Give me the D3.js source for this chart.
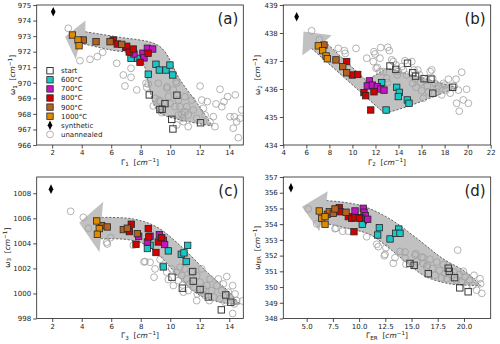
<!DOCTYPE html>
<html lang="en">
<head>
<meta charset="UTF-8">
<title>Raman band positions vs widths</title>
<script src="https://cdn.jsdelivr.net/npm/d3@7/dist/d3.min.js"></script>
<style>
  body { margin: 0; background: #fff; }
  text { font-family: "DejaVu Sans", sans-serif; fill: #222; }
</style>
</head>
<body>
<svg id="fig" width="500" height="344"></svg>
<script>
// ---- legend / series names
var seriesNames = ["start", "600°C", "700°C", "800°C", "900°C", "1000°C", "synthetic", "unannealed"];

// ---- ticks
var xTicksA = [2, 4, 6, 8, 10, 12, 14];
var yTicksA = [966, 967, 968, 969, 970, 971, 972, 973, 974, 975];
var xTicksB = [4, 6, 8, 10, 12, 14, 16, 18, 20, 22];
var yTicksB = [434, 435, 436, 437, 438, 439];
var xTicksC = [2, 4, 6, 8, 10, 12, 14];
var yTicksC = [998, 1000, 1002, 1004, 1006, 1008];
var xTicksD = [5, 7.5, 10, 12.5, 15, 17.5, 20];
var yTicksD = [348, 349, 350, 351, 352, 353, 354, 355, 356, 357];

// ---- panel (a): Γ1 / ω1
var startA = [[8.58,969.22],[9.30,968.28],[9.45,968.30],[9.64,968.66],[10.45,969.2],[10.10,967.65],[10.18,967.03],[12.05,967.43]];
var t600A = [[7.34,971.57],[7.79,971.57],[8.51,970.55],[9.03,971.19],[9.26,970.82],[9.71,970.82],[9.98,971.14],[10.17,970.5]];
var t700A = [[6.98,972.28],[7.54,971.85],[8.15,971.9],[8.22,971.6],[8.45,972.22],[8.81,972.17]];
var t800A = [[6.14,972.75],[6.41,972.49],[7.05,972.35],[7.22,971.98],[7.50,972.17],[7.95,971.32],[8.50,971.90]];
var t900A = [[4.11,972.75],[4.97,972.64],[5.92,972.64],[6.71,972.47]];
var t1000A = [[3.37,973.07],[3.75,972.75],[3.82,972.38]];
var synthA = [[2.07,974.57]];
var unannA = [[3.09,973.50],[3.88,971.42],[4.56,971.51],[5.06,971.68],[5.42,971.96],[6.37,971.25],[6.82,970.50],[7.34,970.93],[7.34,970.35],[6.93,969.79],[7.73,969.54],[8.36,969.97],[8.40,969.71],[8.85,968.51],[9.19,969.97],[9.26,968.89],[9.42,968.08],[9.76,969.65],[9.87,969.11],[9.98,968.68],[10.21,969.54],[10.44,969.97],[10.55,968.89],[10.66,968.46],[10.78,967.98],[10.84,967.72],[10.99,969.11],[11.11,968.46],[11.22,967.93],[11.45,968.89],[11.56,968.25],[11.79,967.72],[12.02,969.79],[12.13,968.89],[12.24,968.36],[12.36,967.93],[12.51,968.79],[12.69,967.50],[12.92,967.82],[13.03,967.18],[13.10,968.64],[13.37,969.58],[13.49,968.46],[13.64,968.79],[13.89,969.11],[14.05,967.82],[14.27,967.08],[14.34,967.82],[14.41,969.22],[14.50,967.50],[14.61,966.47],[14.73,967.72],[14.84,968.25],[8.97,969.00],[9.31,968.79],[10.32,968.46],[11.0,968.14],[10.55,967.93],[10.89,967.50],[11.22,967.18],[10.44,967.29],[8.51,969.92],[9.80,969.75],[10.39,970.07]];
var arrowHeadA = [[2.87,972.96],[4.25,974.0],[3.6,971.5]];
var arrowUpperA = [[4.25,973.28],[6.4,972.95],[8.85,972.55],[9.55,972.1],[10.66,970.2],[12.0,968.45],[12.85,967.22]];
var arrowLowerA = [[3.88,972.55],[5.9,972.12],[7.7,971.78],[8.2,971.2],[8.5,970.0],[9.05,968.3],[9.6,967.9],[12.85,967.22]];

// ---- panel (b): Γ2 / ω2
var startB = [[13.26,436.82],[13.76,436.70],[14.78,436.92],[15.23,436.58],[15.48,436.46],[16.22,436.37],[16.82,436.35],[16.97,435.85],[18.70,436.06]];
var t600B = [[12.54,436.23],[13.84,436.06],[14.07,435.88],[13.98,435.73],[14.76,435.61],[14.91,435.49],[12.92,435.25]];
var t700B = [[11.47,436.29],[11.29,436.11],[11.73,436.14],[12.16,436.08],[12.45,436.00],[12.74,435.96]];
var t800B = [[9.50,436.98],[9.99,436.50],[10.46,436.52],[11.00,435.87],[11.15,435.76],[11.87,435.90],[11.59,435.25]];
var t900B = [[7.53,437.57],[8.57,437.04],[9.16,436.80],[9.50,436.58]];
var t1000B = [[7.04,437.54],[7.42,437.37],[7.71,437.18],[7.82,437.08]];
var synthB = [[5.16,438.58]];
var unannB = [[6.46,438.08],[7.13,437.77],[8.77,437.45],[9.30,437.37],[9.38,437.27],[10.31,437.45],[11.24,437.10],[11.81,436.98],[11.87,437.33],[12.05,436.74],[12.39,437.10],[12.45,437.48],[12.68,436.62],[12.98,436.38],[13.06,437.49],[13.20,437.37],[13.41,437.04],[13.03,436.23],[13.55,436.98],[13.78,436.86],[13.98,436.62],[13.90,436.50],[14.28,436.80],[14.42,436.68],[14.56,437.01],[14.71,436.50],[15.15,436.98],[15.23,436.20],[15.35,436.68],[15.43,436.36],[15.52,436.06],[15.67,436.68],[15.81,436.52],[15.93,436.23],[16.01,435.94],[16.15,435.67],[16.39,436.32],[16.50,436.11],[16.59,435.90],[16.74,436.62],[16.88,436.68],[16.97,436.38],[17.17,436.20],[17.32,436.02],[17.46,436.11],[17.75,435.79],[17.90,436.20],[18.04,436.14],[18.13,435.96],[18.33,436.35],[18.48,435.85],[18.82,436.11],[18.99,436.35],[19.19,435.96],[19.48,436.60],[19.62,435.61],[19.91,435.99],[19.04,435.49],[19.27,435.21],[20.06,435.49],[11.96,437.25],[12.16,436.77],[12.39,436.62]];
var arrowHeadB = [[5.75,438.05],[8.2,437.92],[5.65,437.2]];
var arrowUpperB = [[7.6,437.7],[11.2,436.3],[13.0,436.75],[19.1,436.05]];
var arrowLowerB = [[6.45,437.45],[12.8,435.12],[15.0,435.4],[19.1,436.05]];

// ---- panel (c): Γ3 / ω3
var startC = [[10.12,1001.30],[10.82,1000.42],[11.52,1001.75],[11.56,1000.98],[12.02,1000.31],[12.58,999.72],[13.76,999.88],[13.46,998.69],[14.10,999.30]];
var t600C = [[8.63,1003.85],[8.45,1003.59],[9.87,1003.40],[9.53,1002.12],[10.75,1003.13],[10.93,1003.24],[11.08,1002.55],[11.18,1003.84]];
var t700C = [[7.86,1004.57],[8.63,1004.57],[8.45,1004.11],[9.26,1004.70],[9.53,1004.25],[9.62,1003.91]];
var t800C = [[7.36,1005.53],[7.23,1004.94],[7.68,1003.93],[8.51,1005.18],[8.54,1004.51],[9.03,1003.27],[9.19,1004.11],[9.42,1004.46]];
var t900C = [[5.35,1005.42],[5.73,1005.31],[6.82,1005.10],[7.09,1005.21],[7.77,1004.78]];
var t1000C = [[5.02,1005.79],[5.19,1005.18],[5.06,1004.73]];
var synthC = [[1.92,1008.33]];
var unannC = [[3.25,1006.56],[4.11,1006.08],[4.45,1005.21],[5.69,1004.09],[5.73,1003.95],[5.96,1004.46],[7.50,1003.85],[8.22,1002.52],[8.29,1002.55],[8.63,1002.49],[8.97,1001.96],[8.90,1001.30],[9.31,1002.71],[9.49,1002.23],[9.76,1001.70],[9.87,1001.11],[10.10,1001.96],[10.21,1000.63],[10.44,1001.70],[10.55,1001.03],[10.66,1002.09],[10.78,1001.43],[10.84,1000.68],[10.99,1001.96],[11.11,1001.16],[11.22,1000.23],[11.34,1000.76],[11.45,1001.70],[11.56,1000.50],[11.79,1001.43],[11.83,999.96],[12.02,1000.90],[12.13,1001.96],[12.24,1000.36],[12.36,999.84],[12.47,1000.63],[12.69,1001.16],[12.81,1000.23],[12.96,999.70],[13.15,1000.63],[13.26,1001.16],[13.37,999.56],[13.49,1000.23],[13.60,1000.76],[13.71,999.30],[13.83,1001.35],[13.94,1000.10],[14.05,999.70],[14.23,1000.63],[14.39,999.96],[14.34,999.16],[14.50,999.43],[14.23,998.40],[14.9,999.4],[12.65,999.43],[11.79,999.43],[10.89,1000.10]];
var arrowHeadC = [[3.83,1005.65],[5.46,1007.33],[5.2,1003.3]];
var arrowUpperC = [[5.35,1006.07],[7.5,1005.95],[9.1,1005.3],[10.7,1003.8],[12.5,1001.7],[14.0,1000.1],[14.7,999.15]];
var arrowLowerC = [[5.3,1004.37],[7.1,1004.3],[8.3,1003.9],[9.5,1002.75],[10.7,1001.15],[12.0,999.85],[13.8,999.2],[14.7,999.15]];

// ---- panel (d): ΓER / ωER
var startD = [[14.85,351.5],[15.25,351.38],[16.6,350.85],[18.5,351.2],[18.6,351.0],[19.1,350.6],[19.6,349.95],[20.4,349.7]];
var t600D = [[10.40,354.22],[10.30,353.99],[11.93,353.78],[11.77,353.31],[12.95,353.06],[13.78,353.69],[13.49,353.42],[13.90,353.42]];
var t700D = [[9.61,354.84],[10.40,355.01],[10.47,354.76],[10.59,354.54],[10.82,354.31],[10.15,354.41]];
var t800D = [[8.11,355.05],[8.18,354.79],[8.97,354.48],[9.29,354.37],[9.61,354.41],[10.02,354.37],[9.51,353.52]];
var t900D = [[6.97,354.63],[7.16,354.79],[7.54,354.69],[7.70,354.97],[8.75,354.76]];
var t1000D = [[6.20,354.84],[6.43,354.37],[6.75,354.48],[6.75,353.99]];
var synthD = [[3.5,356.32]];
var unannD = [[5.15,354.97],[5.95,354.03],[7.70,353.71],[8.43,353.55],[8.97,353.55],[7.80,353.74],[10.72,353.20],[11.68,352.72],[11.83,352.57],[12.56,352.50],[12.47,352.08],[12.40,351.99],[13.42,351.87],[13.26,351.51],[13.90,352.27],[14.47,351.45],[15.33,352.04],[15.49,351.61],[16.12,351.87],[16.50,351.40],[14.38,352.23],[14.38,351.85],[15.4,352.12],[15.97,351.91],[16.12,351.49],[16.45,351.28],[16.77,351.77],[17.02,351.17],[17.24,350.75],[17.40,351.59],[17.65,351.06],[17.88,350.58],[18.03,351.43],[18.19,350.85],[18.35,350.53],[18.83,350.75],[19.05,350.96],[19.30,350.43],[19.56,350.79],[19.78,350.32],[19.94,351.0],[20.10,350.64],[20.26,350.11],[20.51,350.43],[19.4,352.35],[20.83,350.11],[20.96,350.75],[21.21,349.80],[21.59,350.21],[21.53,350.53],[21.7,349.6]];
var arrowHeadD = [[4.55,355.1],[7.0,356.1],[6.2,353.55]];
var arrowUpperD = [[6.9,355.5],[10.1,355.2],[12.9,354.35],[15.5,353.1],[18.0,351.8],[20.2,350.95],[21.6,350.1]];
var arrowLowerD = [[6.4,354.1],[9.1,353.7],[11.0,353.35],[12.9,352.45],[14.8,351.4],[16.4,350.65],[18.7,350.2],[21.6,350.1]];

// ---- styles
var sqColors = { start: "none", t600: "#1cc6c6", t700: "#c414c4", t800: "#d40000", t900: "#b3621f", t1000: "#df8a00" };

var panels = [
  { id: "a", left: 36.7, right: 243.3, top: 5, bottom: 145, xDomain: [0.95, 14.95], yDomain: [966, 975],
    xTicks: xTicksA, yTicks: yTicksA, xFmt: d3.format("d"), sub: "1", ylabX: 15,
    start: startA, t600: t600A, t700: t700A, t800: t800A, t900: t900A, t1000: t1000A, synth: synthA, unann: unannA,
    head: arrowHeadA, upper: arrowUpperA, lower: arrowLowerA, straight: false, legend: true },
  { id: "b", left: 283.3, right: 490.7, top: 5, bottom: 145, xDomain: [4, 22], yDomain: [434, 439],
    xTicks: xTicksB, yTicks: yTicksB, xFmt: d3.format("d"), sub: "2", ylabX: 260,
    start: startB, t600: t600B, t700: t700B, t800: t800B, t900: t900B, t1000: t1000B, synth: synthB, unann: unannB,
    head: arrowHeadB, upper: arrowUpperB, lower: arrowLowerB, straight: true },
  { id: "c", left: 36.7, right: 243.3, top: 177, bottom: 318.5, xDomain: [0.95, 14.95], yDomain: [998, 1009.3],
    xTicks: xTicksC, yTicks: yTicksC, xFmt: d3.format("d"), sub: "3", ylabX: 9.5,
    start: startC, t600: t600C, t700: t700C, t800: t800C, t900: t900C, t1000: t1000C, synth: synthC, unann: unannC,
    head: arrowHeadC, upper: arrowUpperC, lower: arrowLowerC, straight: false },
  { id: "d", left: 283.3, right: 490.7, top: 177, bottom: 318.5, xDomain: [2.77, 22.55], yDomain: [348, 357],
    xTicks: xTicksD, yTicks: yTicksD, xFmt: d3.format(".1f"), sub: "ER", ylabX: 259.5,
    start: startD, t600: t600D, t700: t700D, t800: t800D, t900: t900D, t1000: t1000D, synth: synthD, unann: unannD,
    head: arrowHeadD, upper: arrowUpperD, lower: arrowLowerD, straight: false }
];

var svg = d3.select("#fig");
var SQ = 6.4;        // square marker side
var diamond = "M0,-4.8L2.3,0L0,4.8L-2.3,0Z";

// label like  Γ_1 [cm^-1]
function mathLabel(t, sym, sub) {
  t.append("tspan").text(sym);
  t.append("tspan").attr("font-size", 5.6).attr("dy", 1.8).text(sub);
  t.append("tspan").attr("dy", -1.8).text("\u00a0\u00a0[");
  t.append("tspan").attr("font-style", "italic").text("cm");
  t.append("tspan").attr("font-size", 5.6).attr("dy", -3).text("\u22121");
  t.append("tspan").attr("dy", 3).text("]");
}

function drawSquares(g, data, fill, x, y) {
  g.selectAll(null).data(data).enter().append("rect")
    .attr("x", function(d) { return x(d[0]) - SQ / 2; })
    .attr("y", function(d) { return y(d[1]) - SQ / 2; })
    .attr("width", SQ).attr("height", SQ)
    .attr("fill", fill)
    .attr("stroke", fill === "none" ? "#3a3a3a" : "#262626")
    .attr("stroke-width", fill === "none" ? 1 : 0.8);
}

panels.forEach(function(p) {
  var x = d3.scaleLinear().domain(p.xDomain).range([p.left, p.right]);
  var y = d3.scaleLinear().domain(p.yDomain).range([p.bottom, p.top]);
  var g = svg.append("g");

  g.append("clipPath").attr("id", "clip-" + p.id)
    .append("rect").attr("x", p.left).attr("y", p.top)
    .attr("width", p.right - p.left).attr("height", p.bottom - p.top);
  var plot = g.append("g").attr("clip-path", "url(#clip-" + p.id + ")");

  // gray guide arrow
  var line = d3.line().x(function(d) { return x(d[0]); }).y(function(d) { return y(d[1]); })
    .curve(p.straight ? d3.curveLinear : d3.curveCatmullRom.alpha(0.5));
  var up = line(p.upper);
  var lo = line(p.lower.slice().reverse());
  var pt = function(d) { return x(d[0]) + "," + y(d[1]); };
  var shape = "M" + pt(p.head[0]) + "L" + pt(p.head[1]) + "L" + up.slice(1) +
              "L" + lo.slice(1) + "L" + pt(p.head[2]) + "Z";
  plot.append("path").attr("d", shape).attr("fill", "#c1c1c1").attr("stroke", "none");
  [p.upper, p.lower].forEach(function(edge) {
    plot.append("path").attr("d", line(edge)).attr("fill", "none")
      .attr("stroke", "#444").attr("stroke-width", 0.8).attr("stroke-dasharray", "2.2,1.6");
  });

  // unannealed
  plot.selectAll(null).data(p.unann).enter().append("circle")
    .attr("cx", function(d) { return x(d[0]); })
    .attr("cy", function(d) { return y(d[1]); })
    .attr("r", 3.4).attr("fill", "none").attr("stroke", "#a0a0a0").attr("stroke-width", 0.8);

  // annealed steps
  drawSquares(plot, p.start, sqColors.start, x, y);
  drawSquares(plot, p.t600, sqColors.t600, x, y);
  drawSquares(plot, p.t700, sqColors.t700, x, y);
  drawSquares(plot, p.t800, sqColors.t800, x, y);
  drawSquares(plot, p.t900, sqColors.t900, x, y);
  drawSquares(plot, p.t1000, sqColors.t1000, x, y);

  plot.selectAll(null).data(p.synth).enter().append("path")
    .attr("d", diamond)
    .attr("transform", function(d) { return "translate(" + x(d[0]) + "," + y(d[1]) + ")"; })
    .attr("fill", "#000");

  // axes
  var xa = g.append("g").attr("transform", "translate(0," + p.bottom + ")")
    .call(d3.axisBottom(x).tickValues(p.xTicks).tickFormat(p.xFmt).tickSize(3.5).tickPadding(2));
  var ya = g.append("g").attr("transform", "translate(" + p.left + ",0)")
    .call(d3.axisLeft(y).tickValues(p.yTicks).tickFormat(d3.format("d")).tickSize(3.5).tickPadding(2));
  [xa, ya].forEach(function(a) {
    a.select(".domain").remove();
    a.selectAll("line").attr("stroke", "#222").attr("stroke-width", 0.8);
    a.selectAll("text").attr("font-size", 7).attr("font-family", "DejaVu Sans").attr("fill", "#222");
  });

  g.append("rect").attr("x", p.left).attr("y", p.top)
    .attr("width", p.right - p.left).attr("height", p.bottom - p.top)
    .attr("fill", "none").attr("stroke", "#222").attr("stroke-width", 0.8);

  mathLabel(g.append("text").attr("x", (p.left + p.right) / 2).attr("y", p.bottom + 19.5)
    .attr("text-anchor", "middle").attr("font-size", 7.5), "\u0393", p.sub);
  mathLabel(g.append("text").attr("transform", "translate(" + p.ylabX + "," + ((p.top + p.bottom) / 2) + ") rotate(-90)")
    .attr("text-anchor", "middle").attr("font-size", 7.5), "\u03c9", p.sub);

  g.append("text").attr("x", p.right - 5).attr("y", p.top + 18.5)
    .attr("text-anchor", "end").attr("font-size", 15).text("(" + p.id + ")");

  if (p.legend) {
    var lg = g.append("g");
    var kinds = ["start", "t600", "t700", "t800", "t900", "t1000", "synth", "unann"];
    var lx = 50, ly0 = 70.7, dy = 9.1;
    seriesNames.forEach(function(name, i) {
      var k = kinds[i], cy = ly0 + i * dy;
      if (k === "synth") {
        lg.append("path").attr("d", diamond).attr("transform", "translate(" + lx + "," + cy + ")").attr("fill", "#000");
      } else if (k === "unann") {
        lg.append("circle").attr("cx", lx).attr("cy", cy).attr("r", 3.4)
          .attr("fill", "none").attr("stroke", "#a0a0a0").attr("stroke-width", 0.8);
      } else {
        drawSquares(lg, [[lx, cy]], sqColors[k], function(v) { return v; }, function(v) { return v; });
      }
      lg.append("text").attr("x", 61).attr("y", cy).attr("dy", "0.35em")
        .attr("font-size", 7).text(name);
    });
  }
});
</script>
</body>
</html>
